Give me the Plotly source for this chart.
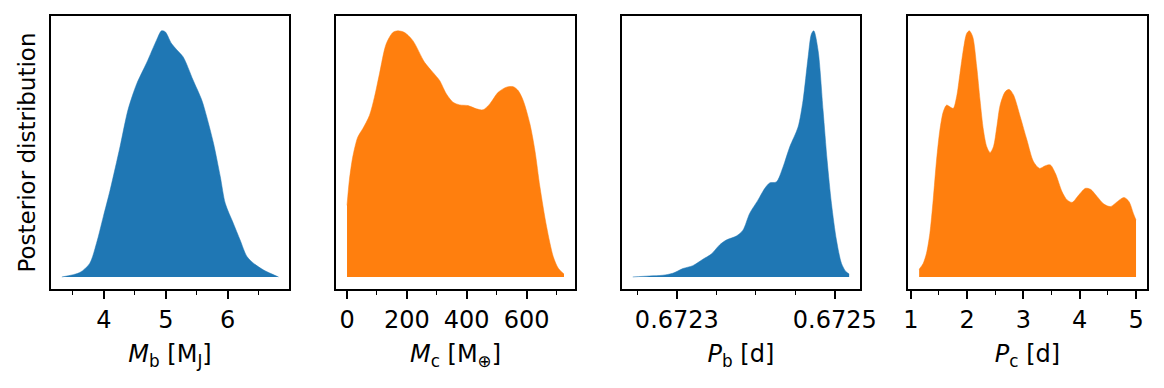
import plotly.graph_objects as go
from plotly.subplots import make_subplots

# posterior densities (normalised to peak = 1)
mb_x = [3.32, 3.61, 3.77, 3.88, 3.99, 4.10, 4.26, 4.39, 4.53, 4.69, 4.85, 4.93, 4.99,
        5.09, 5.18, 5.28, 5.44, 5.58, 5.66, 5.77, 5.88, 5.96, 6.09, 6.20, 6.31, 6.42,
        6.58, 6.82]
mb_y = [0.0, 0.018, 0.055, 0.137, 0.245, 0.353, 0.529, 0.680, 0.785, 0.870, 0.962, 1.0,
        0.996, 0.949, 0.922, 0.894, 0.800, 0.719, 0.651, 0.543, 0.407, 0.299, 0.218,
        0.150, 0.083, 0.055, 0.028, 0.0]

mc_x = [0, 7.8, 19, 35.8, 52.5, 74.9, 91.6, 108.4, 130.7, 153.1, 169.8, 192.2, 220.1,
        259.2, 287.1, 309.5, 331.8, 354.2, 376.5, 404.5, 432.4, 454.7, 477.1, 505.0,
        533.0, 555.3, 572.1, 588.8, 611.2, 627.9, 644.7, 667.0, 689.4, 706.1, 725.1]
mc_y = [0.291, 0.393, 0.487, 0.568, 0.602, 0.656, 0.730, 0.825, 0.946, 0.993, 1.0,
        0.993, 0.960, 0.872, 0.831, 0.798, 0.744, 0.710, 0.699, 0.696, 0.683, 0.679,
        0.703, 0.750, 0.771, 0.773, 0.757, 0.717, 0.622, 0.514, 0.366, 0.204, 0.082,
        0.035, 0.012]

pb_x = [0.6722442, 0.6722653, 0.6722822, 0.6722949, 0.6723076, 0.6723203, 0.6723330,
        0.6723436, 0.6723541, 0.6723626, 0.6723753, 0.6723837, 0.6723922, 0.6724027,
        0.6724112, 0.6724175, 0.6724260, 0.6724345, 0.6724429, 0.6724535, 0.6724598,
        0.6724662, 0.6724704, 0.6724734, 0.6724789, 0.6724852, 0.6724903, 0.6724958,
        0.6725021, 0.6725085, 0.6725140, 0.6725182]
pb_y = [0.0, 0.004, 0.007, 0.015, 0.034, 0.046, 0.072, 0.093, 0.130, 0.150, 0.166,
        0.190, 0.258, 0.312, 0.359, 0.382, 0.386, 0.447, 0.528, 0.609, 0.717, 0.892,
        0.987, 1.0, 0.919, 0.676, 0.474, 0.298, 0.150, 0.055, 0.022, 0.012]

pc_x = [1.149, 1.220, 1.279, 1.339, 1.398, 1.458, 1.517, 1.577, 1.636, 1.695, 1.755,
        1.814, 1.874, 1.933, 1.993, 2.040, 2.100, 2.171, 2.230, 2.290, 2.349, 2.409,
        2.468, 2.528, 2.587, 2.676, 2.748, 2.825, 2.944, 3.063, 3.181, 3.288, 3.390,
        3.479, 3.568, 3.687, 3.776, 3.865, 3.984, 4.103, 4.192, 4.311, 4.430, 4.549,
        4.668, 4.786, 4.876, 4.953, 5.000]
pc_y = [0.031, 0.055, 0.096, 0.177, 0.313, 0.475, 0.597, 0.671, 0.698, 0.691, 0.685,
        0.732, 0.827, 0.922, 0.989, 1.0, 0.976, 0.854, 0.719, 0.597, 0.529, 0.505,
        0.529, 0.610, 0.698, 0.752, 0.762, 0.739, 0.651, 0.556, 0.468, 0.441, 0.452,
        0.455, 0.421, 0.346, 0.313, 0.303, 0.333, 0.360, 0.356, 0.326, 0.296, 0.286,
        0.306, 0.323, 0.306, 0.258, 0.231]

blue = "#1f77b4"
orange = "#ff7f0e"
FONT = "DejaVu Sans"

panels = [
    (mb_x, mb_y, blue, "<i>M</i><sub>b</sub> [M<sub>J</sub>]", [3.145, 6.99], 1, 0.5, None),
    (mc_x, mc_y, orange, "<i>M</i><sub>c</sub> [M<sub>\u2295</sub>]", [-37, 762], 200, 100, None),
    (pb_x, pb_y, blue, "<i>P</i><sub>b</sub> [d]", [0.6722305, 0.6725319], 0.0002, 0.00005, ".4f"),
    (pc_x, pc_y, orange, "<i>P</i><sub>c</sub> [d]", [0.95, 5.195], 1, 0.5, None),
]
# page body has an 8px margin, so the figure is 8px smaller than the window
domains = [[0.0372, 0.2431], [0.2837, 0.4905], [0.5311, 0.7370], [0.7785, 0.9853]]
ydom = [0.2605, 0.9789]

fig = make_subplots(rows=1, cols=4)

for i, (xs, ys, col, title, xr, dt, mdt, fmt) in enumerate(panels):
    fig.add_trace(go.Scatter(x=xs, y=ys, mode="lines", fill="tozeroy",
                             fillcolor=col, line=dict(color=col, width=0.5, shape="spline", smoothing=0.8),
                             showlegend=False, hoverinfo="skip"), row=1, col=i + 1)
    t0 = 0.6723 if fmt else 0
    fig.update_xaxes(row=1, col=i + 1, domain=domains[i], range=xr, automargin=False,
                     tick0=t0, dtick=dt, tickformat=fmt,
                     ticks="outside", ticklen=8, tickwidth=1.5, tickcolor="black",
                     minor=dict(ticks="outside", ticklen=4.5, tickwidth=1.2, tickcolor="black",
                                dtick=mdt, tick0=t0),
                     showline=True, mirror=True, linecolor="black", linewidth=1.6,
                     showgrid=False, zeroline=False,
                     tickfont=dict(family=FONT, size=24, color="black"),
                     title=dict(text=title, font=dict(family=FONT, size=24, color="black"), standoff=13))
    fig.update_yaxes(row=1, col=i + 1, domain=ydom, range=[-0.049, 1.06],
                     automargin=False,
                     showticklabels=False, ticks="", showline=True, mirror=True,
                     linecolor="black", linewidth=1.6, showgrid=False, zeroline=False)

fig.update_yaxes(row=1, col=1, title=dict(text="Posterior distribution", standoff=7,
                                          font=dict(family=FONT, size=23, color="black")))

fig.update_layout(width=1156, height=380, margin=dict(l=0, r=0, t=0, b=0),
                  plot_bgcolor="white", paper_bgcolor="white")

fig.write_html("out.html")
